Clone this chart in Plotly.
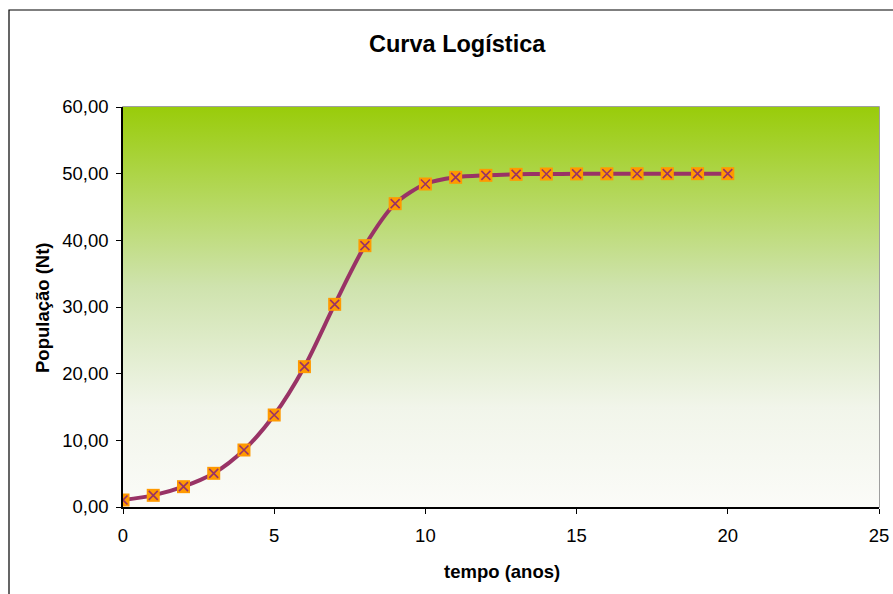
import plotly.graph_objects as go

tempo = list(range(0, 21))
populacao = [1.05, 1.75, 3.05, 5.05, 8.55, 13.8, 21.05, 30.4, 39.2, 45.5, 48.45,
             49.45, 49.75, 49.9, 49.95, 49.97, 49.98, 49.99, 50.0, 50.0, 50.0]
x_ticks = [0, 5, 10, 15, 20, 25]
y_ticks = [0, 10, 20, 30, 40, 50, 60]

title_text = "Curva Logística"
x_title = "tempo (anos)"
y_title = "População (Nt)"

W, H = 893, 594
L, R, T, B = 123, 879, 107, 507
pw, ph = R - L, B - T

def px(xp):
    return (xp - L) / pw

def py(yp):
    return (B - yp) / ph

fig = go.Figure()

# gradient background for plot area
fig.add_trace(go.Scatter(
    x=[0, 25, 25, 0, 0], y=[0, 0, 60, 60, 0],
    fill="toself", mode="lines", line=dict(width=0),
    fillgradient=dict(type="vertical",
                      colorscale=[[0, "#FBFBF8"], [0.25, "#F1F5EA"],
                                  [0.55, "#CFE3AE"], [1, "#99CC0A"]]),
    hoverinfo="skip", showlegend=False,
))

fig.add_trace(go.Scatter(
    x=tempo, y=populacao, mode="lines",
    line=dict(color="#993366", width=4, shape="spline", smoothing=0.8),
    showlegend=False,
))
fig.add_trace(go.Scatter(
    x=tempo, y=populacao, mode="markers",
    marker=dict(symbol="square", size=13, color="#FF9900", line=dict(width=0)),
    showlegend=False,
))
fig.add_trace(go.Scatter(
    x=tempo, y=populacao, mode="markers",
    marker=dict(symbol="x-thin", size=9, color="#993366",
                line=dict(color="#993366", width=1.6)),
    showlegend=False,
))

font_family = "Liberation Sans, Arial, sans-serif"

fig.update_layout(
    width=W, height=H,
    margin=dict(l=L, r=W - R, t=T, b=H - B),
    paper_bgcolor="white", plot_bgcolor="rgba(0,0,0,0)",
    separators=",.",
    font=dict(family=font_family, color="black", size=18),
    xaxis=dict(range=[0, 25], tickvals=x_ticks, showgrid=False, zeroline=False,
               showline=True, linecolor="black", linewidth=1.5,
               ticks="outside", ticklen=5, tickcolor="black",
               ticklabelstandoff=6, tickfont=dict(size=18.5), automargin=False),
    yaxis=dict(range=[0, 60], tickvals=y_ticks, tickformat=".2f", showgrid=False,
               zeroline=False, showline=True, linecolor="black", linewidth=1.5,
               ticks="outside", ticklen=5, tickcolor="black",
               ticklabelstandoff=4, tickfont=dict(size=18.5), automargin=False),
    shapes=[
        # plot-area border (gray top/right)
        dict(type="rect", xref="paper", yref="paper", x0=0, x1=1, y0=0, y1=1,
             line=dict(color="#808080", width=1.5), layer="below"),
        # chart area border
        dict(type="rect", xref="paper", yref="paper",
             x0=px(9), x1=px(W + 20), y0=py(H + 20), y1=py(10),
             line=dict(color="black", width=1.2), fillcolor="rgba(0,0,0,0)"),
    ],
    annotations=[
        dict(text="<b>" + title_text + "</b>", xref="paper", yref="paper",
             x=px(457), y=py(44), showarrow=False,
             font=dict(size=23.5, family=font_family),
             xanchor="center", yanchor="middle"),
        dict(text="<b>" + x_title + "</b>", xref="paper", yref="paper",
             x=px(502), y=py(571), showarrow=False,
             font=dict(size=18.5, family=font_family),
             xanchor="center", yanchor="middle"),
        dict(text="<b>" + y_title + "</b>", xref="paper", yref="paper",
             x=px(42), y=py(308), showarrow=False, textangle=-90,
             font=dict(size=18.5, family=font_family),
             xanchor="center", yanchor="middle"),
    ],
)

fig.write_html("out.html")
